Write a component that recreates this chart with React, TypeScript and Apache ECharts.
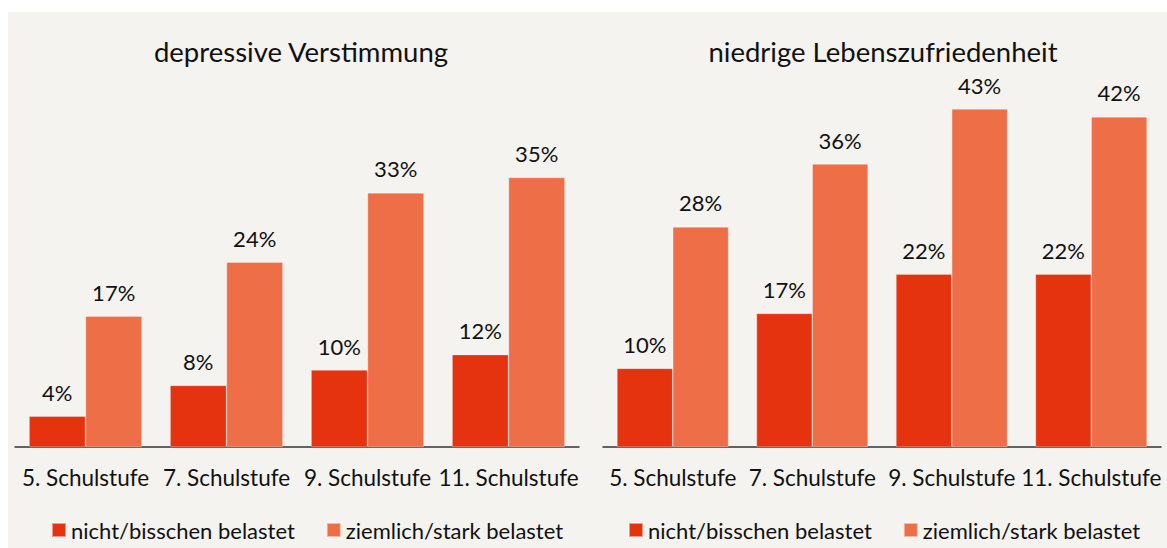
import React, { useEffect, useRef } from "react";
import * as echarts from "echarts";

const categories = ["5. Schulstufe", "7. Schulstufe", "9. Schulstufe", "11. Schulstufe"];
const seriesNames = ["nicht/bisschen belastet", "ziemlich/stark belastet"];
const titles = ["depressive Verstimmung", "niedrige Lebenszufriedenheit"];
const depLow = [4, 8, 10, 12];
const depHigh = [17, 24, 33, 35];
const lifeLow = [10, 17, 22, 22];
const lifeHigh = [28, 36, 43, 42];

const FONT = "Lato, 'Open Sans', sans-serif";
const DARK = "#e5330f";
const LIGHT = "#ee6f47";
const TEXT = "#111111";

export default function App() {
  const ref = useRef<HTMLDivElement>(null);
  useEffect(() => {
    if (!ref.current) return;
    const chart = echarts.init(ref.current, null, { renderer: "svg" });
    const grids = [
      { left: 7, right: 588, top: 50, bottom: 101 },
      { left: 595, right: 6, top: 42, bottom: 101 },
    ];
    const mkBar = (name: string, data: number[], color: string, idx: number) => ({
      type: "bar",
      name,
      data,
      xAxisIndex: idx,
      yAxisIndex: idx,
      barGap: "0%",
      barCategoryGap: "20%",
      itemStyle: { color, borderColor: "rgba(255,255,255,0.5)", borderWidth: 0.6 },
      label: {
        show: true,
        position: "top",
        distance: 13,
        formatter: (p: any) => `${p.value}%`,
        color: TEXT,
        fontFamily: FONT,
        fontSize: 22,
      },
    });
    const legendBase = {
      data: seriesNames,
      top: 502,
      width: 700,
      itemWidth: 14,
      itemHeight: 14,
      itemGap: 31,
      icon: "rect",
      textStyle: { fontFamily: FONT, fontSize: 22, color: TEXT },
    };
    const titleStyle = { fontFamily: FONT, fontSize: 27.5, fontWeight: "normal", color: TEXT };
    chart.setOption({
      animation: false,
      backgroundColor: "#f4f3ef",
      title: [
        { text: titles[0], left: 288, top: 20, textAlign: "center", textStyle: titleStyle },
        { text: titles[1], left: 870, top: 20, textAlign: "center", textStyle: titleStyle },
      ],
      legend: [
        { ...legendBase, left: 38 },
        { ...legendBase, left: 615 },
      ],
      grid: grids,
      xAxis: [0, 1].map((i) => ({
        type: "category",
        gridIndex: i,
        data: categories,
        axisLine: { lineStyle: { color: "#333333", width: 1.5 } },
        axisTick: { show: false },
        axisLabel: { color: TEXT, fontFamily: FONT, fontSize: 22.5, margin: 19, interval: 0 },
      })),
      yAxis: [0, 1].map((i) => ({
        type: "value",
        gridIndex: i,
        min: 0,
        max: 50,
        show: false,
        splitLine: { show: false },
      })),
      series: [
        mkBar(seriesNames[0], depLow, DARK, 0),
        mkBar(seriesNames[1], depHigh, LIGHT, 0),
        mkBar(seriesNames[0], lifeLow, DARK, 1),
        mkBar(seriesNames[1], lifeHigh, LIGHT, 1),
      ],
    });
    return () => chart.dispose();
  }, []);
  return (
    <div
      ref={ref}
      style={{ position: "absolute", left: 8, top: 12, width: 1159, height: 536 }}
    />
  );
}
